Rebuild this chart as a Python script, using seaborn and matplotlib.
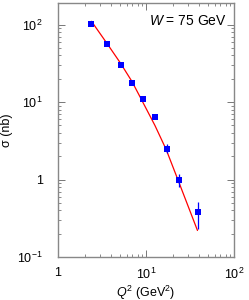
import numpy as np
import pandas as pd
import matplotlib
matplotlib.use("Agg")
import matplotlib.pyplot as plt
import matplotlib.ticker as mticker
import seaborn as sns

# data
q2 = [2.4, 3.57, 5.2, 6.93, 9.17, 12.6, 17.2, 23.9, 38.7]
sigma = [103, 56.6, 30.4, 17.7, 11.0, 6.5, 2.5, 0.98, 0.38]
err_lo = [3, 2, 1.2, 0.8, 0.5, 0.3, 0.3, 0.17, 0.15]
err_hi = [3, 2, 1.2, 0.8, 0.5, 0.3, 0.4, 0.21, 0.13]

q2_fit = [2.4, 3.6, 5.1, 6.9, 8.6, 12.6, 16.9, 23.9, 38.4]
sig_fit = [110, 57, 32, 18.5, 11.5, 5.0, 2.45, 0.89, 0.22]

pts = pd.DataFrame({"q2": q2, "sigma": sigma})
fit = pd.DataFrame({"q2": q2_fit, "sigma": sig_fit})

sns.set_style("ticks")
plt.rcParams["font.family"] = ["Liberation Sans", "DejaVu Sans"]
plt.rcParams["mathtext.fontset"] = "custom"
plt.rcParams["mathtext.rm"] = "Liberation Sans"
plt.rcParams["mathtext.it"] = "Liberation Sans:italic"
plt.rcParams["text.color"] = "black"
plt.rcParams["axes.labelcolor"] = "black"
plt.rcParams["xtick.labelcolor"] = "black"
plt.rcParams["ytick.labelcolor"] = "black"

fig = plt.figure(figsize=(2.49, 3.0), dpi=100)
ax = fig.add_axes([0.233, 0.1433, 0.707, 0.847])

sns.lineplot(data=fit, x="q2", y="sigma", color="red", lw=0.9, ax=ax)
ax.errorbar(q2, sigma, yerr=[err_lo, err_hi], fmt="none", ecolor="blue",
            elinewidth=0.9, capsize=0)
sns.scatterplot(data=pts, x="q2", y="sigma", marker="s", color="blue",
                s=24, linewidth=0, ax=ax, zorder=3)

ax.set_xscale("log")
ax.set_yscale("log")
ax.set_xlim(1, 100)
ax.set_ylim(0.1, 190)


def fmt(v, pos):
    e = int(round(np.log10(v)))
    if e == 0:
        return "1"
    return r"$10^{%d}$" % e


for axis in (ax.xaxis, ax.yaxis):
    axis.set_major_locator(mticker.LogLocator(base=10))
    axis.set_minor_locator(mticker.LogLocator(base=10, subs=np.arange(2, 10)))
    axis.set_major_formatter(mticker.FuncFormatter(fmt))
    axis.set_minor_formatter(mticker.NullFormatter())

ax.tick_params(which="both", direction="in", top=True, right=True,
               color="#777777", labelsize=9)
ax.tick_params(axis="y", pad=11)
ax.tick_params(axis="x", pad=7)
ax.tick_params(which="major", length=5, width=0.7)
ax.tick_params(which="minor", length=2.5, width=0.6)
for s in ax.spines.values():
    s.set_visible(True)
    s.set_color("#888888")
    s.set_linewidth(1.0)

ax.set_xlabel(r"$Q^2$ (GeV$^2$)", fontsize=9, labelpad=1)
ax.set_ylabel("σ (nb)", fontsize=9, labelpad=3)
ax.text(0.96, 0.955, r"$W$ = 75 GeV", transform=ax.transAxes,
        ha="right", va="top", fontsize=10)

fig.savefig("out.png", dpi=100)
